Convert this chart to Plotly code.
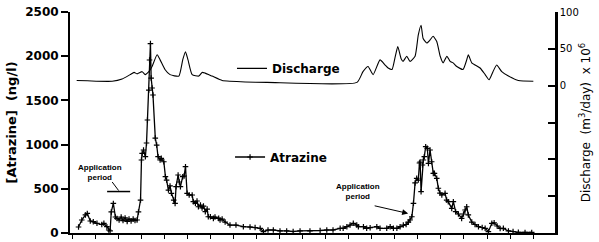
import plotly.graph_objects as go

# ---- Data (months since start of record) ----
atz_month = [0.28, 0.42, 0.58, 0.66, 0.79, 0.92, 1.08, 1.29, 1.38, 1.51,
             1.59, 1.65, 1.70, 1.79, 1.88, 1.95, 2.04, 2.13, 2.21, 2.30,
             2.39, 2.47, 2.56, 2.65, 2.73, 2.82, 2.88, 2.97, 3.01, 3.04,
             3.10, 3.18, 3.23, 3.27, 3.33, 3.36, 3.40, 3.43, 3.47, 3.51,
             3.61, 3.67, 3.73, 3.82, 3.87, 3.98, 4.05, 4.10, 4.18, 4.25,
             4.31, 4.41, 4.47, 4.51, 4.60, 4.65, 4.70, 4.80, 4.86, 4.92,
             4.99, 5.08, 5.21, 5.26, 5.35, 5.42, 5.48, 5.57, 5.64, 5.70,
             5.78, 5.86, 5.91, 6.00, 6.13, 6.20, 6.36, 6.42, 6.51, 6.64,
             6.85, 7.11, 7.43, 7.72, 7.94, 8.16, 8.30, 8.50, 8.73, 9.02,
             9.31, 9.59, 9.89, 10.32, 10.76, 11.05, 11.32, 11.63, 11.76, 11.92,
             12.06, 12.20, 12.35, 12.42, 12.64, 12.78, 12.93, 13.22, 13.36, 13.65,
             13.80, 13.94, 14.09, 14.23, 14.37, 14.49, 14.59, 14.66, 14.74, 14.81,
             14.88, 14.95, 15.02, 15.07, 15.10, 15.14, 15.20, 15.24, 15.28, 15.34,
             15.41, 15.46, 15.53, 15.60, 15.67, 15.72, 15.82, 15.89, 15.96, 16.04,
             16.18, 16.25, 16.32, 16.47, 16.54, 16.64, 16.76, 16.90, 16.98, 17.05,
             17.12, 17.19, 17.34, 17.48, 17.63, 17.79, 17.92, 18.06, 18.21, 18.31,
             18.44, 18.57, 18.71, 18.93, 19.13, 19.36, 19.65, 19.94]
atz_value = [68, 147, 204, 221, 136, 128, 110, 96, 110, 71,
             34, 23, 238, 334, 181, 164, 147, 181, 141, 170,
             130, 158, 136, 158, 141, 147, 238, 373, 826, 901,
             939, 863, 1018, 1278, 1617, 1957, 2143, 1753, 1640, 1561,
             1074, 995, 863, 826, 845, 806, 637, 599, 486, 532,
             449, 373, 334, 524, 656, 577, 524, 637, 645, 750,
             449, 430, 430, 354, 336, 362, 297, 317, 283, 305,
             241, 271, 184, 184, 166, 181, 166, 147, 158, 124,
             90, 90, 71, 68, 62, 53, 15, 34, 34, 23,
             23, 17, 23, 23, 28, 34, 34, 53, 53, 71,
             90, 110, 90, 71, 71, 53, 60, 71, 53, 53,
             71, 53, 53, 71, 90, 96, 124, 147, 184, 336,
             566, 619, 599, 792, 803, 467, 769, 826, 863, 976,
             958, 788, 939, 806, 675, 675, 619, 506, 452, 430,
             449, 373, 354, 279, 354, 241, 215, 166, 215, 260,
             297, 204, 124, 96, 71, 62, 53, 15, 110, 116,
             79, 51, 53, 23, 17, 8, 6, 6]

dis_month = [0.20, 1.74, 2.17, 2.52, 2.69, 2.82, 3.04, 3.17, 3.33, 3.47,
             3.69, 3.82, 4.03, 4.25, 4.63, 4.80, 4.92, 5.03, 5.21, 5.50,
             5.64, 5.77, 6.07, 6.51, 6.85, 8.46, 12.36, 12.62, 12.84, 13.06,
             13.36, 13.58, 13.71, 13.88, 14.01, 14.13, 14.27, 14.36, 14.52, 14.66,
             14.88, 15.02, 15.14, 15.23, 15.39, 15.53, 15.66, 15.82, 15.97, 16.10,
             16.26, 16.40, 16.53, 16.69, 16.96, 17.12, 17.19, 17.34, 17.70, 17.92,
             18.09, 18.26, 18.42, 18.64, 18.93, 19.36, 20.01]
dis_value = [7, 6, 9, 15, 18, 16, 19, 15, 19, 26,
             42, 35, 22, 15, 13, 35, 46, 35, 15, 13,
             18, 17, 13, 7, 6, 4.5, 4.5, 19, 26, 15,
             35, 28, 24, 22, 38, 53, 37, 33, 40, 33,
             40, 69, 82, 64, 58, 62, 67, 60, 40, 31,
             40, 33, 31, 26, 22, 35, 42, 31, 24, 15,
             8, 19, 28, 19, 13, 7, 6]

left_ticks = [0, 500, 1000, 1500, 2000, 2500]
right_ticks = [-200, -150, -100, -50, 0, 50, 100]
right_labels = ["", "", "", "", "0", "50", "100"]
month_ticks = list(range(0, 21))

FONT = "DejaVu Sans"

fig = go.Figure()
fig.add_trace(go.Scatter(
    x=dis_month, y=dis_value, name="Discharge", yaxis="y2",
    mode="lines", line=dict(color="black", width=1.1, shape="spline", smoothing=0.5),
    legend="legend",
))
fig.add_trace(go.Scatter(
    x=atz_month, y=atz_value, name="Atrazine", yaxis="y",
    mode="lines+markers", line=dict(color="black", width=1.3),
    marker=dict(symbol="cross-thin", size=4, line=dict(color="black", width=1.2)),
    legend="legend2",
))

fig.update_layout(
    width=599, height=242,
    margin=dict(l=70, r=44, t=12, b=9, autoexpand=False),
    paper_bgcolor="white", plot_bgcolor="white",
    font=dict(family=FONT, color="black"),
    xaxis=dict(range=[-0.09, 20.95], tickvals=month_ticks, showticklabels=False,
               ticks="outside", ticklen=4, tickwidth=1, tickcolor="black",
               showline=True, linecolor="black", linewidth=1.5,
               showgrid=False, zeroline=False, automargin=False),
    yaxis=dict(range=[0, 2500], tickvals=left_ticks, ticks="outside", ticklen=7,
               tickwidth=1.5, tickcolor="black", showline=True, linecolor="black",
               linewidth=2, showgrid=False, zeroline=False, automargin=False,
               tickfont=dict(size=12, family=FONT, weight="bold"),
               title=dict(text="[Atrazine]  (ng/l)", font=dict(size=13, family=FONT, weight="bold"),
                          standoff=6)),
    yaxis3=dict(range=[0, 2500], tickvals=left_ticks, ticks="inside", ticklen=7,
                tickwidth=1.5, tickcolor="black", overlaying="y", side="left",
                showticklabels=False, showline=False, showgrid=False, zeroline=False,
                automargin=False),
    yaxis2=dict(range=[-200, 100], tickvals=right_ticks, ticktext=right_labels,
                overlaying="y", side="right", ticks="inside", ticklen=7, tickwidth=1.5,
                tickcolor="black", showline=True, linecolor="black", linewidth=2.5,
                showgrid=False, zeroline=False, automargin=False,
                tickfont=dict(size=10, family=FONT),
                title=dict(text="Discharge  (m<sup>3</sup>/day)  x 10<sup>6</sup>",
                           font=dict(size=12, family=FONT), standoff=4)),
    legend=dict(x=0.334, y=0.745, xanchor="left", yanchor="middle",
                bgcolor="rgba(0,0,0,0)", font=dict(size=12, family=FONT, weight="bold")),
    legend2=dict(x=0.330, y=0.344, xanchor="left", yanchor="middle",
                 bgcolor="rgba(0,0,0,0)", font=dict(size=12, family=FONT, weight="bold")),
    showlegend=True,
)

ann_font = dict(size=8, family="Liberation Sans", weight="bold")
fig.add_annotation(x=1.21, y=690, xref="x", yref="y", text="Application<br>period",
                   showarrow=False, font=ann_font)
fig.add_annotation(x=12.41, y=470, xref="x", yref="y", text="Application<br>period",
                   showarrow=False, font=ann_font)
fig.add_annotation(x=14.58, y=221, xref="x", yref="y", text="", showarrow=True,
                   ax=-35, ay=-8, arrowhead=2, arrowsize=1.2, arrowwidth=1, arrowcolor="black")
fig.add_shape(type="line", xref="x", yref="y", x0=1.74, y0=577, x1=2.02, y1=480,
              line=dict(color="black", width=1))
fig.add_shape(type="line", xref="x", yref="y", x0=1.52, y0=469, x1=2.52, y1=469,
              line=dict(color="black", width=1.5))

fig.write_html("out.html")
